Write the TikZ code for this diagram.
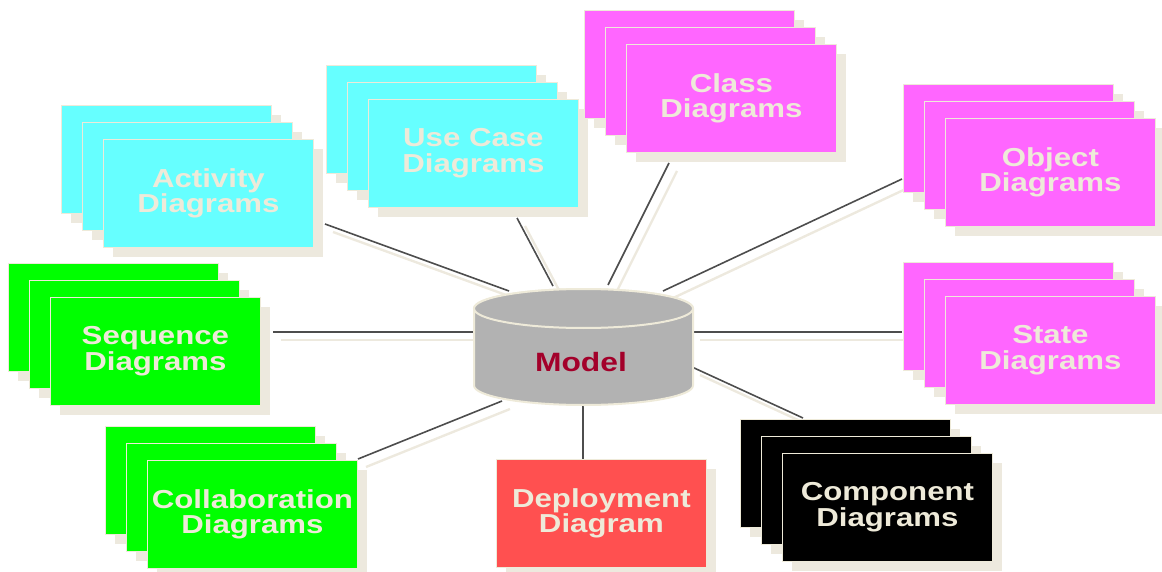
\documentclass[tikz,border=0pt]{standalone}
\usepackage{fontspec}
\newfontfamily\lblfont[FakeStretch=1.2]{Liberation Sans Bold}
\definecolor{cyanc}{HTML}{66FFFF}
\definecolor{magc}{HTML}{FF66FF}
\definecolor{greenc}{HTML}{00FF00}
\definecolor{redc}{HTML}{FF5050}
\definecolor{blackc}{HTML}{000000}
\definecolor{shadowc}{HTML}{EDE9DE}
\definecolor{lblc}{HTML}{EEEAD9}
\definecolor{linec}{HTML}{4D4D4D}
\definecolor{cylc}{HTML}{B2B2B2}
\definecolor{modelc}{HTML}{A3002A}
\tikzset{
  cardedge/.style={draw=lblc, line width=0.8pt},
  card/.style={cardedge, minimum width=210pt, minimum height=108pt, inner sep=0pt,
    text=lblc, align=center, font=\lblfont\fontsize{26}{25.5}\selectfont},
  conn/.style={draw=linec, line width=1.6pt},
  connshadow/.style={draw=shadowc, line width=2.4pt},
}
\newcommand\cardstack[5]{%
  \begin{scope}[shift={(#2,#3)}]
    \fill[shadowc] (10,10) rectangle (220,118);
    \draw[cardedge,fill=#4] (0,0) rectangle (210,108);
    \fill[shadowc] (31,27) rectangle (241,135);
    \draw[cardedge,fill=#4] (21,17) rectangle (231,125);
    \fill[shadowc] (52,44) rectangle (262,152);
    \node[card,fill=#4,anchor=north west] (#1) at (42,34) {#5};
  \end{scope}}
\begin{document}
\begin{tikzpicture}[x=1pt,y=-1pt]
\useasboundingbox (0,0) rectangle (1162,572);
% connector end points
\coordinate (e-act) at (325,224); \coordinate (m-act) at (509,291);
\coordinate (e-use) at (517,218); \coordinate (m-use) at (553,286);
\coordinate (e-cls) at (669,163); \coordinate (m-cls) at (608,285);
\coordinate (e-obj) at (902,179); \coordinate (m-obj) at (663,291);
\coordinate (e-seq) at (273,332); \coordinate (m-seq) at (474,332);
\coordinate (e-sta) at (902,332); \coordinate (m-sta) at (692,332);
\coordinate (e-col) at (358,459); \coordinate (m-col) at (502,401);
\coordinate (e-cmp) at (803,418); \coordinate (m-cmp) at (692,367);
\coordinate (e-dep) at (583,459); \coordinate (m-dep) at (583,404);
% connector shadows
\foreach \n in {act,use,cls,obj,seq,sta,col,cmp}
  \draw[connshadow] ([shift={(8pt,-8pt)}]e-\n) -- ([shift={(8pt,-8pt)}]m-\n);
% connectors
\foreach \n in {act,use,cls,obj,seq,sta,col,cmp,dep}
  \draw[conn] (e-\n) -- (m-\n);
% cylinder
\begin{scope}[shift={(583.5,385.5)}, x=1pt, y=1pt]
  \draw[draw=lblc, line width=2pt, fill=cylc]
    (-109.5,0) arc (180:360:109.5pt and 19.5pt) -- (109.5,77)
    arc (0:180:109.5pt and 19.5pt) -- cycle;
  \draw[draw=lblc, line width=2pt, fill=cylc] (0,77) ellipse (109.5pt and 19.5pt);
\end{scope}
\node[text=modelc, font=\lblfont\fontsize{26.5}{26}\selectfont] (model) at (581,362) {Model};
% diagram stacks
\cardstack{act}{61}{105}{cyanc}{Activity\\Diagrams}
\cardstack{use}{326}{65}{cyanc}{Use Case\\Diagrams}
\cardstack{cls}{584}{10}{magc}{Class\\Diagrams}
\cardstack{obj}{903}{84}{magc}{Object\\Diagrams}
\cardstack{seq}{8}{263}{greenc}{Sequence\\Diagrams}
\cardstack{sta}{903}{262}{magc}{State\\Diagrams}
\cardstack{col}{105}{426}{greenc}{Collaboration\\Diagrams}
\cardstack{cmp}{740}{419}{blackc}{Component\\Diagrams}
% deployment (single card)
\fill[shadowc] (506,469) rectangle (716,577);
\node[card,fill=redc,anchor=north west] (dep) at (496,459) {Deployment\\Diagram};
\end{tikzpicture}
\end{document}
